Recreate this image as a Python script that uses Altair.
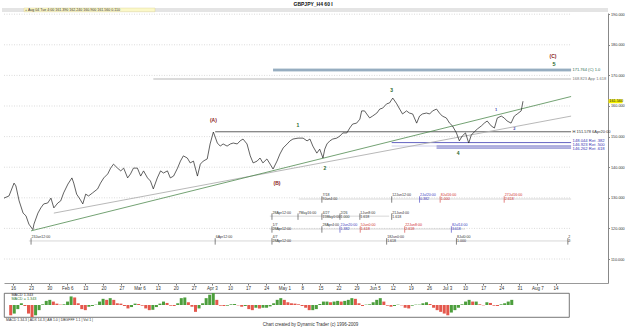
import altair as alt
import pandas as pd

# ---------------- data ----------------
# trading-day index (0 = Fri 16 Jan 2009), GBPJPY H4 close (approx.)
price_day = [
    -3.3, -2.5, -1.1, 0.3, 0.8, 1.7, 2.8, 3.6, 4.4, 5.5,
    5.8, 6.9, 7.7, 8.5, 9.6, 10.5, 11.3, 12.4, 13.2, 14.0,
    15.2, 16.3, 16.8, 17.6, 18.5, 19.3, 20.1, 20.9, 22.0, 23.4,
    24.2, 25.1, 26.2, 27.0, 27.8, 28.9, 29.8, 30.6, 31.7, 32.5,
    33.3, 34.4, 35.3, 36.1, 37.2, 38.0, 38.8, 39.9, 40.8, 41.6,
    42.7, 43.5, 44.4, 45.5, 46.3, 47.1, 48.2, 49.0, 49.9, 51.0,
    51.8, 52.6, 53.7, 54.5, 55.4, 56.5, 57.3, 58.1, 59.2, 60.1,
    60.9, 62.0, 62.8, 63.6, 64.7, 65.6, 66.4, 67.5, 68.3, 69.1,
    70.2, 71.1, 71.9, 73.0, 73.8, 74.7, 75.8, 76.6, 77.4, 78.8,
    80.2, 81.3, 82.1, 82.9, 84.0, 84.8, 85.7, 86.2, 86.8, 87.6,
    88.4, 89.5, 90.4, 91.2, 92.3, 93.1, 93.9, 95.0, 95.9, 96.4,
    97.2, 97.8, 98.6, 99.4, 100.6, 101.4, 102.2, 103.3, 104.1, 105.0,
    106.1, 106.9, 107.7, 108.8, 109.6, 110.5, 111.6, 112.4, 113.2, 114.3,
    115.2, 116.0, 117.1, 117.9, 118.7, 119.8, 120.7, 121.5, 122.6, 123.4,
    124.2, 125.1, 126.0, 126.7, 127.5, 128.4, 129.5, 130.3, 131.1, 132.2,
    133.1, 133.9, 135.0, 135.8, 136.6, 137.7, 138.6, 139.4, 140.5, 141.0,
]
price_val = [
    131.2, 129.9, 130.6, 134.8, 133.9, 129.0, 125.0, 124.1, 121.4, 119.6,
    121.4, 125.0, 126.7, 128.0, 128.3, 129.9, 126.7, 128.3, 129.0, 131.6,
    134.5, 136.5, 134.8, 131.2, 129.6, 128.0, 131.2, 130.6, 131.6, 132.9,
    134.8, 136.5, 137.8, 139.7, 141.0, 139.7, 138.8, 139.7, 136.5, 137.8,
    139.7, 139.7, 137.1, 138.8, 136.5, 135.5, 132.9, 136.5, 138.8, 138.1,
    138.8, 136.5, 137.1, 139.7, 142.0, 143.7, 143.0, 141.4, 142.0, 137.1,
    141.0, 142.0, 142.7, 147.6, 151.5, 147.9, 146.9, 147.6, 146.9, 147.6,
    147.9, 147.6, 148.6, 149.2, 147.6, 143.7, 141.4, 142.0, 143.0, 141.4,
    142.7, 141.0, 139.4, 142.0, 144.3, 146.3, 147.6, 148.6, 149.2, 149.5,
    149.5, 148.6, 149.2, 146.9, 144.6, 145.9, 143.0, 145.9, 147.6, 148.6,
    149.2, 149.5, 150.2, 151.2, 151.2, 152.8, 154.1, 154.4, 155.7, 158.4,
    158.4, 157.4, 156.1, 156.7, 157.7, 159.0, 159.3, 160.7, 161.0, 162.6,
    160.7, 159.0, 157.4, 158.4, 157.7, 157.4, 154.4, 156.7, 157.4, 157.7,
    157.4, 158.4, 159.0, 157.7, 156.7, 156.1, 154.4, 153.5, 151.2, 148.6,
    150.2, 151.2, 147.9, 150.5, 151.5, 152.5, 153.5, 154.4, 155.1, 153.5,
    152.8, 156.1, 156.7, 156.1, 155.1, 154.4, 156.7, 157.4, 158.4, 161.56,
]

# MACD histogram, one value per trading day from day -2 to day 139
macd_first_day = -2
macd_val = [
    -3.0, -2.5, -1.2, 0.5, -0.3, -2.5, -3.5, -3.0, -1.5, 0.2,
    1.2, 1.5, 1.0, 0.4, 0.1, 0.2, 1.0, 2.5, 2.2, 0.5,
    -1.2, -1.5, -0.5, -0.3, 0.1, 1.0, 1.8, 1.5, 2.0, 1.5,
    0.5, 0.4, -0.3, -1.0, -0.6, 0.4, 0.3, -0.2, -1.0, -1.5,
    -1.4, -0.6, 0.4, 1.0, 0.6, -0.2, -0.3, 0.5, 2.0, 2.2,
    0.8, -0.5, -2.0, -1.0, 0.5, 2.0, 3.0, 3.5, 1.5, -0.2,
    -0.3, -0.2, 0.2, 0.3, -0.1, -0.5, -0.3, -1.2, -1.5, -0.8,
    -1.0, -0.8, -0.8, -0.4, 0.5, 1.5, 2.0, 1.5, 0.8, 0.5,
    0.4, 0.2, -0.3, -0.8, -1.5, -1.5, -1.2, 0.3, 1.0, 1.0,
    0.8, 1.0, 1.2, 1.0, 1.2, 1.5, 2.0, 1.8, 0.5, -0.3,
    0.1, 0.2, 0.8, 1.5, 2.0, 1.0, -0.2, -0.5, -0.3, 0.1,
    -0.1, -0.8, -1.0, -0.2, 0.1, 0.1, 0.5, 0.8, 0.3, -0.8,
    -1.5, -2.0, -2.5, -3.0, -2.2, -1.5, -0.8, 0.2, 1.0, 1.5,
    1.0, 1.0, 0.2, -0.1, 0.8, 0.6, -0.2, -0.3, 0.2, 0.5,
    1.0, 1.5,
]

week_labels = ["16", "23", "30", "Feb 6", "13", "20", "27", "Mar 6", "13", "20", "27",
               "Apr 3", "10", "17", "24", "May 1", "8", "15", "22", "29", "Jun 5", "12",
               "19", "26", "Jul 3", "10", "17", "24", "31", "Aug 7", "14"]
price_ticks = [110, 120, 130, 140, 150, 160, 170, 180, 190]

# trendlines (start/end day, start/end price)
green_trend_day = [5.0, 154.3]
green_trend_val = [119.2, 163.1]
gray_trend_day = [11.3, 154.3]
gray_trend_val = [125.0, 156.7]

# horizontal projection / retracement levels
level_val = [171.76, 171.76, 168.82, 151.578, 148.04, 146.92, 146.92, 146.26]
level_start = [71.9, 71.9, 38.8, 55.9, 104.7, 104.7, 117.1, 117.1]
level_end = [154.3, 154.3, 154.3, 154.3, 154.3, 117.1, 154.3, 154.3]
level_label_val = [171.76, 168.82, 151.578, 148.6, 147.2, 145.8]
level_label_text = ["171.764 (C) 1.0", "168.823 App 1.618", "H 151.578 6Apr20:00",
                    "148.044 Ret .382", "146.923 Ret .500", "146.262 Ret .618"]

# Elliott wave labels
wave_text = ["(A)", "(B)", "1", "2", "3", "4", "5", "(C)", "1", "2"]
wave_day = [55.4, 73.0, 78.8, 86.2, 104.7, 123.1, 149.6, 149.3, 133.6, 138.6]
wave_val = [155.4, 134.8, 153.8, 139.7, 165.2, 144.6, 173.7, 176.3, 158.7, 152.5]

# time-cycle annotation rows
row_val = [129.6, 124.0, 119.8, 115.9]
row_start = [79.0, 71.0, 71.0, 4.4]
row_end = [154.3, 104.0, 125.0, 154.3]
time_text = ["7/18\n9Jun4:00", "12Jun12:00", "2Jul20:00\n0.382", "8Jul16:00\n1.000", "27Jul16:00\n2.618",
             "28Apr12:00", "7May16:00", "4/27\n15May0:00", "2/26\n1.000", "1Jun8:00\n1.618", "21Jun4:00\n1.618",
             "1/7\n28Apr12:00", "28Apr4:00", "2Jun20:00\n1.382", "5Jun0:00\n1.618", "22Jun8:00\n2.618", "8Jul14:00\n3.618",
             "23Jan12:00", "6Apr12:00", "4/7\n28Apr12:00", "18Jun0:00\n1.618", "8Jul0:00\n1.000", "2\n2"]
time_day = [85.4, 104.7, 112.4, 118.1, 135.8,
            71.6, 78.8, 85.4, 90.4, 95.9, 104.7,
            71.6, 85.4, 90.4, 96.0, 108.3, 121.2,
            5.0, 55.9, 71.6, 103.3, 122.6, 153.4]
time_row = [0, 0, 0, 0, 0,
            1, 1, 1, 1, 1, 1,
            2, 2, 2, 2, 2, 2,
            3, 3, 3, 3, 3, 3]
time_kind = ["k", "k", "b", "r", "r",
             "k", "k", "k", "k", "k", "k",
             "k", "k", "b", "r", "r", "b",
             "k", "k", "k", "k", "k", "k"]

# ---------------- layout / styles ----------------
FONT = "Liberation Sans"
XMIN, XMAX = -2.48, 164.5
PLOT_END = 154.3
YMIN, YMAX = 102.16, 190.39
W, H = 604, 270
xs = alt.Scale(domain=[XMIN, XMAX], nice=False, zero=False)
ys = alt.Scale(domain=[YMIN, YMAX], nice=False, zero=False)

label_expr = "[" + ",".join("'%s'" % s for s in week_labels) + "][round(datum.value/5)]"
AX_X = alt.Axis(values=list(range(0, 151, 5)), labelExpr=label_expr, labelFontSize=4.5, tickSize=2,
                labelPadding=0, title=None, grid=False, domainColor="#999", tickColor="#777",
                labelColor="#333", labelFlush=False, labelOverlap=False)
AX_Y = alt.Axis(orient="right", values=price_ticks, format=".3f", labelFontSize=3.8, tickSize=1.5,
                labelPadding=1, title=None, grid=False, domainColor="#888", tickColor="#888",
                labelColor="#333")


def X(f):
    return alt.X(f, scale=xs, axis=AX_X)


def Y(f):
    return alt.Y(f, scale=ys, axis=AX_Y)


level_colors = ["#a9bdcc", "#6d8ca5", "#9a9a9a", "#3a3a3a", "#3a3ab0", "#bcbce2", "#3a3ab0", "#3a3ab0"]
level_widths = [2.8, 0.6, 0.7, 0.8, 0.8, 0.7, 0.8, 0.8]
level_label_colors = ["#2e6a52", "#777777", "#333333", "#3535b5", "#3535b5", "#3535b5"]
level_label_sizes = [4, 4, 4, 4.2, 4.2, 4.2]
wave_colors = ["#8b2222", "#8b2222", "#2c6a2c", "#2c6a2c", "#2c6a2c", "#2c6a2c", "#2c6a2c", "#8b2222",
               "#4848b0", "#4848b0"]
wave_sizes = [5, 5, 5, 5, 5, 5, 5.5, 5, 4, 4]
kind_colors = {"k": "#333333", "b": "#3b3bc0", "r": "#d03030"}

grid_df = pd.DataFrame({"p": price_ticks, "d0": XMIN, "d1": PLOT_END})
grid = alt.Chart(grid_df).mark_rule(color="#c4c4c4", strokeWidth=0.6, strokeDash=[1, 1.5]).encode(
    x=X("d0:Q"), x2="d1:Q", y=Y("p:Q"))

row_df = pd.DataFrame({"p": row_val, "d0": row_start, "d1": row_end})
rows = alt.Chart(row_df).mark_rule(color="#bdbdbd", strokeWidth=0.6).encode(
    x=X("d0:Q"), x2="d1:Q", y=Y("p:Q"))

tdf = pd.DataFrame({"t": time_text, "d": time_day, "row": time_row, "kind": time_kind})
tdf["p"] = [row_val[r] for r in tdf["row"]]
tdf["pt"] = tdf["p"] + 0.5
tdf["p0"] = tdf["p"] + 0.9
tdf["p1"] = tdf["p"] - 1.2
tdf["c"] = [kind_colors[k] for k in tdf["kind"]]
time_ticks = alt.Chart(tdf).mark_rule(strokeWidth=0.6).encode(
    x=X("d:Q"), y=Y("p0:Q"), y2="p1:Q", color=alt.Color("c:N", scale=None))
time_labels = alt.Chart(tdf).mark_text(fontSize=3.6, align="left", baseline="bottom", dx=0.5,
                                       lineBreak="\n", lineHeight=4).encode(
    x=X("d:Q"), y=Y("pt:Q"), text="t:N", color=alt.Color("c:N", scale=None))

lev_df = pd.DataFrame({"p": level_val, "d0": level_start, "d1": level_end,
                       "c": level_colors, "w": level_widths})
levels = alt.Chart(lev_df).mark_rule().encode(
    x=X("d0:Q"), x2="d1:Q", y=Y("p:Q"),
    color=alt.Color("c:N", scale=None), strokeWidth=alt.StrokeWidth("w:Q", scale=None))

ll_df = pd.DataFrame({"p": level_label_val, "t": level_label_text, "c": level_label_colors,
                      "s": level_label_sizes, "d": PLOT_END + 0.4})
level_labels = alt.Chart(ll_df).mark_text(align="left", baseline="middle").encode(
    x=X("d:Q"), y=Y("p:Q"), text="t:N",
    color=alt.Color("c:N", scale=None), size=alt.Size("s:Q", scale=None))

green_df = pd.DataFrame({"d": green_trend_day, "p": green_trend_val})
gray_df = pd.DataFrame({"d": gray_trend_day, "p": gray_trend_val})
green_line = alt.Chart(green_df).mark_line(color="#4f8a4f", strokeWidth=0.8).encode(x=X("d:Q"), y=Y("p:Q"))
gray_line = alt.Chart(gray_df).mark_line(color="#b0b0b0", strokeWidth=0.9).encode(x=X("d:Q"), y=Y("p:Q"))

pdf = pd.DataFrame({"d": price_day, "p": price_val})
price_line = alt.Chart(pdf).mark_line(color="#1e1e1e", strokeWidth=0.7, clip=True).encode(
    x=X("d:Q"), y=Y("p:Q"), order="d:Q")

wdf = pd.DataFrame({"t": wave_text, "d": wave_day, "p": wave_val, "c": wave_colors, "s": wave_sizes})
waves = alt.Chart(wdf).mark_text(fontWeight="bold").encode(
    x=X("d:Q"), y=Y("p:Q"), text="t:N",
    color=alt.Color("c:N", scale=None), size=alt.Size("s:Q", scale=None))

last = price_val[-1]
tag_df = pd.DataFrame({"d0": [XMAX + 0.15], "d1": [XMAX + 4.0], "p0": [last - 0.65], "p1": [last + 0.65],
                       "t": ["%.3f" % last], "p": [last]})
tag_rect = alt.Chart(tag_df).mark_rect(color="#f4f000").encode(
    x=X("d0:Q"), x2="d1:Q", y=Y("p0:Q"), y2="p1:Q")
tag_text = alt.Chart(tag_df).mark_text(fontSize=3.8, align="left", baseline="middle", dx=0.8, color="#222").encode(
    x=X("d0:Q"), y=Y("p:Q"), text="t:N")

# window chrome (toolbar strip above the plot)
chrome_df = pd.DataFrame({"t": ["+ Aug 04 Tue 4:00   161.390   162.240   160.900   161.560   0.110"]})
strip = alt.Chart(chrome_df).mark_rect(color="#e4e4e4").encode(
    x=alt.value(-2), x2=alt.value(W), y=alt.value(-5), y2=alt.value(-1))
ybox = alt.Chart(chrome_df).mark_rect(color="#fbf8c8", stroke="#d8d090", strokeWidth=0.4).encode(
    x=alt.value(20), x2=alt.value(151), y=alt.value(-5), y2=alt.value(-1.2))
ytext = alt.Chart(chrome_df).mark_text(fontSize=3.6, align="left", baseline="middle", color="#333").encode(
    x=alt.value(21), y=alt.value(-3.1), text="t:N")

price_chart = alt.layer(
    grid, rows, time_ticks, time_labels, levels, level_labels, gray_line, green_line,
    price_line, waves, tag_rect, tag_text, strip, ybox, ytext
).properties(width=W, height=H)

# ---------------- MACD panel ----------------
MX_END = 153.7
MW = round((MX_END - XMIN) * W / (XMAX - XMIN))
mdf = pd.DataFrame({"d": [macd_first_day + i for i in range(len(macd_val))], "v": macd_val})
mdf["c"] = ["#4c9e3c" if (i > 0 and v >= mdf["v"][i - 1]) else "#e4574c" for i, v in enumerate(mdf["v"])]
mxs = alt.Scale(domain=[XMIN, MX_END], nice=False, zero=False)
mys = alt.Scale(domain=[-3.5, 3.5], nice=False, zero=False)
macd_bars = alt.Chart(mdf).mark_bar(size=3.0).encode(
    x=alt.X("d:Q", scale=mxs, axis=None), y=alt.Y("v:Q", scale=mys, axis=None), y2=alt.datum(0),
    color=alt.Color("c:N", scale=None))
mlab_df = pd.DataFrame({"t": ["MACD 1.343", "MACD = 1.343"], "d": [-1.8, -1.8], "v": [2.8, 1.7],
                        "c": ["#333333", "#2f7a2f"]})
macd_labels = alt.Chart(mlab_df).mark_text(fontSize=3.8, align="left", baseline="middle").encode(
    x=alt.X("d:Q", scale=mxs, axis=None), y=alt.Y("v:Q", scale=mys, axis=None), text="t:N",
    color=alt.Color("c:N", scale=None))
tabs_df = pd.DataFrame({"t": ["MACD 1.34.3 | ADX 14.3 | AB 1.0 | DBGFFF 1.1 | Vol 1 |"]})
tabs = alt.Chart(tabs_df).mark_text(fontSize=3.5, align="left", baseline="middle", color="#333").encode(
    x=alt.value(2), y=alt.value(26.5), text="t:N")

macd_chart = alt.layer(macd_bars, macd_labels, tabs).properties(
    width=MW, height=24,
    view=alt.ViewBackground(stroke="#555555", strokeWidth=0.8),
    title=alt.TitleParams("Chart created by Dynamic Trader  (c) 1996-2009", orient="bottom",
                          fontSize=4.5, fontWeight="normal", color="#333", offset=1, dx=24,
                          anchor="middle", font=FONT),
)

chart = alt.vconcat(price_chart, macd_chart, spacing=2).properties(
    title=alt.TitleParams("GBPJPY_H4 60 I", fontSize=5, fontWeight="bold", anchor="middle",
                          offset=1, font=FONT, color="#111"),
    padding={"left": 2, "top": 1, "right": 0, "bottom": 0},
    background="white",
).configure_view(stroke=None).configure_axis(labelFont=FONT).configure_text(font=FONT)

chart.save("out.html", embed_options={"renderer": "svg", "actions": False})
